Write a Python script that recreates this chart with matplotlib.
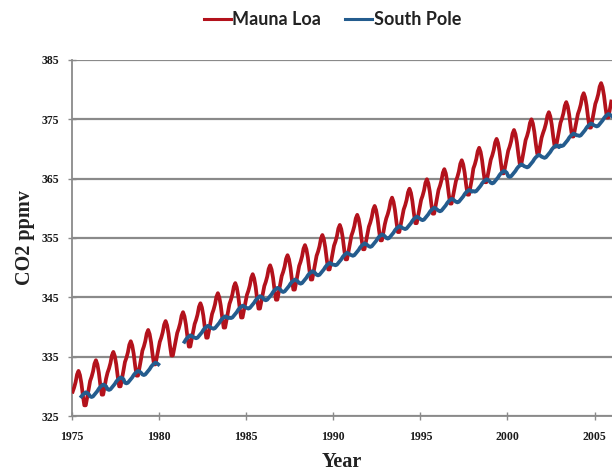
import numpy as np
import matplotlib
matplotlib.use("Agg")
import matplotlib.pyplot as plt

# Monthly CO2 (ppmv), Jan..Dec, one row per year
first_year = 1975
mauna_loa = [
    [329.1, 329.8, 330.7, 332.0, 332.6, 331.9, 330.5, 328.5, 326.8, 326.8, 328.1, 329.5],  # 1975
    [330.9, 331.6, 332.5, 333.8, 334.4, 333.7, 332.3, 330.3, 328.6, 328.6, 329.9, 331.3],  # 1976
    [332.3, 333.0, 333.9, 335.2, 335.8, 335.1, 333.7, 331.7, 330.0, 330.0, 331.3, 332.7],  # 1977
    [334.1, 334.8, 335.7, 337.0, 337.6, 336.9, 335.5, 333.5, 331.8, 331.8, 333.1, 334.5],  # 1978
    [336.0, 336.7, 337.6, 338.9, 339.5, 338.8, 337.4, 335.4, 333.7, 333.7, 335.0, 336.4],  # 1979
    [337.5, 338.2, 339.1, 340.4, 341.0, 340.3, 338.9, 336.9, 335.2, 335.2, 336.5, 337.9],  # 1980
    [339.0, 339.7, 340.6, 341.9, 342.5, 341.8, 340.4, 338.4, 336.7, 336.7, 338.0, 339.4],  # 1981
    [340.5, 341.2, 342.1, 343.4, 344.0, 343.3, 341.9, 339.9, 338.2, 338.2, 339.5, 340.9],  # 1982
    [342.2, 342.9, 343.8, 345.1, 345.7, 345.0, 343.6, 341.6, 339.9, 339.9, 341.2, 342.6],  # 1983
    [343.9, 344.6, 345.5, 346.8, 347.4, 346.7, 345.3, 343.3, 341.6, 341.6, 342.9, 344.3],  # 1984
    [345.4, 346.1, 347.0, 348.3, 348.9, 348.2, 346.8, 344.8, 343.1, 343.1, 344.4, 345.8],  # 1985
    [346.9, 347.6, 348.5, 349.8, 350.4, 349.7, 348.3, 346.3, 344.6, 344.6, 345.9, 347.3],  # 1986
    [348.6, 349.3, 350.2, 351.5, 352.1, 351.4, 350.0, 348.0, 346.3, 346.3, 347.6, 349.0],  # 1987
    [350.3, 351.0, 351.9, 353.2, 353.8, 353.1, 351.7, 349.7, 348.0, 348.0, 349.3, 350.7],  # 1988
    [352.0, 352.7, 353.6, 354.9, 355.5, 354.8, 353.4, 351.4, 349.7, 349.7, 351.0, 352.4],  # 1989
    [353.7, 354.4, 355.3, 356.6, 357.2, 356.5, 355.1, 353.1, 351.4, 351.4, 352.7, 354.1],  # 1990
    [355.4, 356.1, 357.0, 358.3, 358.9, 358.2, 356.8, 354.8, 353.1, 353.1, 354.4, 355.8],  # 1991
    [356.9, 357.6, 358.5, 359.8, 360.4, 359.7, 358.3, 356.3, 354.6, 354.6, 355.9, 357.3],  # 1992
    [358.3, 359.0, 359.9, 361.2, 361.8, 361.1, 359.7, 357.7, 356.0, 356.0, 357.3, 358.7],  # 1993
    [359.8, 360.5, 361.4, 362.7, 363.3, 362.6, 361.2, 359.2, 357.5, 357.5, 358.8, 360.2],  # 1994
    [361.4, 362.1, 363.0, 364.3, 364.9, 364.2, 362.8, 360.8, 359.1, 359.1, 360.4, 361.8],  # 1995
    [363.1, 363.8, 364.7, 366.0, 366.6, 365.9, 364.5, 362.5, 360.8, 360.8, 362.1, 363.5],  # 1996
    [364.6, 365.3, 366.2, 367.5, 368.1, 367.4, 366.0, 364.0, 362.3, 362.3, 363.6, 365.0],  # 1997
    [366.7, 367.4, 368.3, 369.6, 370.2, 369.5, 368.1, 366.1, 364.4, 364.4, 365.7, 367.1],  # 1998
    [368.2, 368.9, 369.8, 371.1, 371.7, 371.0, 369.6, 367.6, 365.9, 365.9, 367.2, 368.6],  # 1999
    [369.7, 370.4, 371.3, 372.6, 373.2, 372.5, 371.1, 369.1, 367.4, 367.4, 368.7, 370.1],  # 2000
    [371.5, 372.2, 373.1, 374.4, 375.0, 374.3, 372.9, 370.9, 369.2, 369.2, 370.5, 371.9],  # 2001
    [372.7, 373.4, 374.3, 375.6, 376.2, 375.5, 374.1, 372.1, 370.4, 370.4, 371.7, 373.1],  # 2002
    [374.4, 375.1, 376.0, 377.3, 377.9, 377.2, 375.8, 373.8, 372.1, 372.1, 373.4, 374.8],  # 2003
    [375.9, 376.6, 377.5, 378.8, 379.4, 378.7, 377.3, 375.3, 373.6, 373.6, 374.9, 376.3],  # 2004
    [377.6, 378.3, 379.2, 380.5, 381.1, 380.4, 379.0, 377.0, 375.3, 375.3, 376.6, 378.0],  # 2005
]

nan = float("nan")
south_pole = [
    [nan, nan, nan, nan, nan, nan, 328.3, 328.6, 328.8, 329.0, 328.9, 328.7],          # 1975
    [328.3, 328.2, 328.3, 328.6, 328.9, 329.2, 329.6, 329.9, 330.1, 330.3, 330.2, 330.0],  # 1976
    [329.5, 329.4, 329.5, 329.8, 330.1, 330.4, 330.8, 331.1, 331.3, 331.5, 331.4, 331.2],  # 1977
    [330.6, 330.5, 330.6, 330.9, 331.2, 331.5, 331.9, 332.2, 332.4, 332.6, 332.5, 332.3],  # 1978
    [332.0, 331.9, 332.0, 332.3, 332.6, 332.9, 333.3, 333.6, 333.8, 334.0, 333.9, 333.7],  # 1979
    [nan, nan, nan, nan, nan, nan, nan, nan, nan, nan, nan, nan],                      # 1980
    [nan, nan, nan, nan, nan, 337.5, 337.9, 338.2, 338.4, 338.6, 338.5, 338.3],          # 1981
    [338.2, 338.1, 338.2, 338.5, 338.8, 339.1, 339.5, 339.8, 340.0, 340.2, 340.1, 339.9],  # 1982
    [339.8, 339.7, 339.8, 340.1, 340.4, 340.7, 341.1, 341.4, 341.6, 341.8, 341.7, 341.5],  # 1983
    [341.6, 341.5, 341.6, 341.9, 342.2, 342.5, 342.9, 343.2, 343.4, 343.6, 343.5, 343.3],  # 1984
    [343.2, 343.1, 343.2, 343.5, 343.8, 344.1, 344.5, 344.8, 345.0, 345.2, 345.1, 344.9],  # 1985
    [344.6, 344.5, 344.6, 344.9, 345.2, 345.5, 345.9, 346.2, 346.4, 346.6, 346.5, 346.3],  # 1986
    [346.0, 345.9, 346.0, 346.3, 346.6, 346.9, 347.3, 347.6, 347.8, 348.0, 347.9, 347.7],  # 1987
    [347.4, 347.3, 347.4, 347.7, 348.0, 348.3, 348.7, 349.0, 349.2, 349.4, 349.3, 349.1],  # 1988
    [348.8, 348.7, 348.8, 349.1, 349.4, 349.7, 350.1, 350.4, 350.6, 350.8, 350.7, 350.5],  # 1989
    [350.5, 350.4, 350.5, 350.8, 351.1, 351.4, 351.8, 352.1, 352.3, 352.5, 352.4, 352.2],  # 1990
    [352.1, 352.0, 352.1, 352.4, 352.7, 353.0, 353.4, 353.7, 353.9, 354.1, 354.0, 353.8],  # 1991
    [353.6, 353.5, 353.6, 353.9, 354.2, 354.5, 354.9, 355.2, 355.4, 355.6, 355.5, 355.3],  # 1992
    [355.0, 354.9, 355.0, 355.3, 355.6, 355.9, 356.3, 356.6, 356.8, 357.0, 356.9, 356.7],  # 1993
    [356.6, 356.5, 356.6, 356.9, 357.2, 357.5, 357.9, 358.2, 358.4, 358.6, 358.5, 358.3],  # 1994
    [358.1, 358.0, 358.1, 358.4, 358.7, 359.0, 359.4, 359.7, 359.9, 360.1, 360.0, 359.8],  # 1995
    [359.6, 359.5, 359.6, 359.9, 360.2, 360.5, 360.9, 361.2, 361.4, 361.6, 361.5, 361.3],  # 1996
    [361.1, 361.0, 361.1, 361.4, 361.7, 362.0, 362.4, 362.7, 362.9, 363.1, 363.0, 362.8],  # 1997
    [362.9, 362.8, 362.9, 363.2, 363.5, 363.8, 364.2, 364.5, 364.7, 364.9, 364.8, 364.6],  # 1998
    [364.3, 364.2, 364.3, 364.6, 364.9, 365.2, 365.6, 365.9, 366.1, 366.3, 366.2, 366.0],  # 1999
    [365.4, 365.3, 365.4, 365.7, 366.0, 366.3, 366.7, 367.0, 367.2, 367.4, 367.3, 367.1],  # 2000
    [367.0, 366.9, 367.0, 367.3, 367.6, 367.9, 368.3, 368.6, 368.8, 369.0, 368.9, 368.7],  # 2001
    [368.6, 368.5, 368.6, 368.9, 369.2, 369.5, 369.9, 370.2, 370.4, 370.6, 370.5, 370.3],  # 2002
    [370.6, 370.5, 370.6, 370.9, 371.2, 371.5, 371.9, 372.2, 372.4, 372.6, 372.5, 372.3],  # 2003
    [372.3, 372.2, 372.3, 372.6, 372.9, 373.2, 373.6, 373.9, 374.1, 374.3, 374.2, 374.0],  # 2004
    [373.9, 373.8, 373.9, 374.2, 374.5, 374.8, 375.2, 375.5, 375.7, 375.9, 375.8, 375.6],  # 2005
]

x_ticks = [1975, 1980, 1985, 1990, 1995, 2000, 2005]
y_ticks = [325, 335, 345, 355, 365, 375, 385]

ml = np.array(mauna_loa, dtype=float).ravel()
sp = np.array(south_pole, dtype=float).ravel()
t = first_year + (np.arange(ml.size) + 0.5) / 12.0

fig = plt.figure(figsize=(6.12, 4.73), dpi=100)
ax = fig.add_axes([0.1176, 0.1205, 0.8824, 0.7527])

red = "#B3121C"
blue = "#245C8E"
ax.plot(t, ml, color=red, lw=2.7, solid_joinstyle="round", label="Mauna Loa", zorder=3)
ax.plot(t, sp, color=blue, lw=2.7, solid_joinstyle="round", label="South Pole", zorder=4)

ax.set_xlim(1975, 2006.0)
ax.set_ylim(325, 385)
ax.set_xticks(x_ticks)
ax.set_yticks(y_ticks)
ax.yaxis.grid(True, color="#8a8a8a", lw=1.6)
ax.set_axisbelow(True)

for s in ("top", "right"):
    ax.spines[s].set_visible(False)
for s in ("left", "bottom"):
    ax.spines[s].set_color("#8a8a8a")
    ax.spines[s].set_linewidth(1.3)

ax.tick_params(axis="both", direction="inout", length=6, width=1.0, color="#8a8a8a")
for lbl in ax.get_xticklabels() + ax.get_yticklabels():
    lbl.set_fontfamily("Liberation Serif")
    lbl.set_fontweight("bold")
    lbl.set_fontsize(8.5)
    lbl.set_color("#1a1a1a")
ax.tick_params(axis="x", pad=8)
ax.tick_params(axis="y", pad=6)

ax.set_xlabel("Year", fontfamily="Liberation Serif", fontweight="bold",
              fontsize=14.5, color="#222222", labelpad=6)
ax.set_ylabel("CO2 ppmv", fontfamily="Liberation Serif", fontweight="bold",
              fontsize=14.5, color="#222222", labelpad=5)

leg = fig.legend(loc="center", bbox_to_anchor=(0.543, 0.958), ncol=2, frameon=False,
                 prop={"family": "Lato", "weight": "bold", "size": 13},
                 handlelength=1.5, handletextpad=0.1, columnspacing=1.3)
for line in leg.get_lines():
    line.set_linewidth(2.2)
for txt in leg.get_texts():
    txt.set_color("#222222")

fig.savefig("out.png", dpi=100)
